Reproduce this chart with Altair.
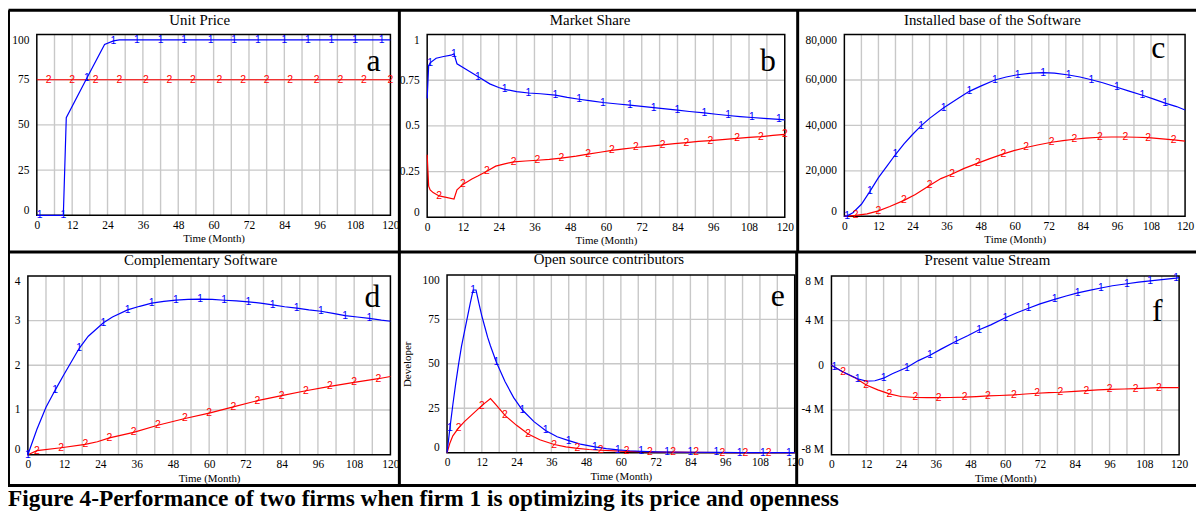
import altair as alt
import pandas as pd

# ---------------- data ----------------
month_ticks = [0, 12, 24, 36, 48, 60, 72, 84, 96, 108, 120]
month_grid = [6, 12, 18, 24, 30, 36, 42, 48, 54, 60, 66, 72, 78, 84, 90, 96, 102, 108, 114]

# a) Unit Price
a_t_blue = [0, 1, 9, 10, 17, 23, 26, 28, 34, 42, 50, 59, 67, 75, 84, 92, 100, 108, 117, 120]
a_v_blue = [0, 0, 0, 54, 76, 94.5, 96.5, 97, 97, 97, 97, 97, 97, 97, 97, 97, 97, 97, 97, 97]
a_mk_blue = [1, 9, 17, 26, 34, 42, 50, 59, 67, 75, 84, 92, 100, 108, 117]
a_t_red = [0, 4, 12, 20, 28, 37, 45, 53, 62, 70, 78, 86, 95, 103, 111, 120]
a_v_red = [75, 75, 75, 75, 75, 75, 75, 75, 75, 75, 75, 75, 75, 75, 75, 75]
a_mk_red = [4, 12, 20, 28, 37, 45, 53, 62, 70, 78, 86, 95, 103, 111, 120]

# b) Market Share
b_t_blue = [0, 0.5, 1, 3, 5.5, 8, 9, 10, 13, 17, 21, 24, 26, 30, 34, 38, 43, 47, 51, 55, 59, 64,
            68, 72, 76, 80, 84, 88, 93, 97, 101, 105, 109, 113, 118, 120]
b_v_blue = [0.65, 0.83, 0.845, 0.87, 0.88, 0.887, 0.895, 0.84, 0.81, 0.77, 0.73, 0.71, 0.70, 0.688,
            0.68, 0.676, 0.668, 0.656, 0.646, 0.637, 0.628, 0.62, 0.614, 0.607, 0.60, 0.593, 0.586,
            0.579, 0.571, 0.564, 0.557, 0.551, 0.546, 0.541, 0.536, 0.533]
b_mk_blue = [1, 9, 17, 26, 34, 43, 51, 59, 68, 76, 84, 93, 101, 109, 118]
b_t_red = [0, 0.5, 1, 2, 4, 6, 9, 10, 12, 15, 17, 20, 23, 26, 29, 33, 37, 41, 45, 50, 54, 58, 62,
           66, 70, 75, 79, 83, 87, 91, 95, 100, 104, 108, 112, 116, 120]
b_v_red = [0.342, 0.17, 0.15, 0.135, 0.117, 0.11, 0.10, 0.15, 0.18, 0.21, 0.226, 0.252, 0.28, 0.292,
           0.303, 0.308, 0.312, 0.317, 0.324, 0.335, 0.346, 0.356, 0.366, 0.374, 0.382, 0.389,
           0.396, 0.403, 0.409, 0.415, 0.42, 0.426, 0.432, 0.437, 0.441, 0.448, 0.454]
b_mk_red = [4, 12, 20, 29, 37, 45, 54, 62, 70, 79, 87, 95, 104, 112, 120]

# c) Installed base of the Software
c_t_blue = [0, 1, 3, 6, 9, 12, 15, 18, 21, 24, 27, 30, 35, 40, 44, 48, 53, 57, 61, 66, 70, 74, 79,
            83, 87, 91, 96, 100, 105, 109, 113, 117, 120]
c_v_blue = [0, 200, 1600, 5300, 11000, 17000, 22100, 27200, 31900, 36000, 39800, 43100, 47800,
            51800, 55000, 57300, 60000, 61300, 62300, 63000, 63200, 63000, 62200, 61300, 60100,
            58800, 56800, 55200, 53300, 51600, 49800, 48300, 46800]
c_mk_blue = [1, 9, 18, 27, 35, 44, 53, 61, 70, 79, 87, 96, 105, 113]
c_t_red = [0, 4, 8, 12, 16, 21, 25, 30, 34, 38, 42, 47, 51, 56, 60, 64, 68, 73, 77, 81, 85, 90, 94,
           99, 103, 107, 111, 116, 120]
c_v_red = [0, 400, 1100, 2400, 4300, 7000, 9600, 13600, 16600, 18600, 21000, 23400, 25300, 27500,
           29000, 30300, 31400, 32600, 33300, 33900, 34400, 34800, 34900, 34900, 34800, 34600,
           34200, 33600, 33100]
c_mk_red = [4, 12, 21, 30, 38, 47, 56, 64, 73, 81, 90, 99, 107, 116]

# d) Complementary Software
d_t_blue = [0, 3, 6, 9, 12, 17, 20, 25, 28, 33, 37, 41, 45, 49, 53, 57, 61, 65, 69, 73, 77, 81, 85,
            89, 93, 97, 101, 105, 109, 113, 117, 120]
d_v_blue = [0, 0.57, 1.06, 1.44, 1.8, 2.38, 2.65, 2.95, 3.08, 3.24, 3.32, 3.39, 3.43, 3.46, 3.475,
            3.48, 3.475, 3.455, 3.44, 3.42, 3.39, 3.35, 3.31, 3.28, 3.24, 3.21, 3.16, 3.11, 3.08,
            3.05, 3.01, 2.985]
d_mk_blue = [0, 9, 17, 25, 33, 41, 49, 57, 65, 73, 81, 89, 97, 105, 113]
d_t_red = [0, 3, 11, 19, 23, 27, 35, 43, 52, 60, 68, 76, 84, 92, 100, 108, 116, 120]
d_v_red = [0, 0.09, 0.155, 0.23, 0.29, 0.375, 0.5, 0.66, 0.81, 0.93, 1.07, 1.21, 1.32, 1.43, 1.53,
           1.62, 1.70, 1.75]
d_mk_red = [3, 11, 19, 27, 35, 43, 52, 60, 68, 76, 84, 92, 100, 108, 116]

# e) Open source contributors
e_t_blue = [0, 1, 2, 3, 4, 5, 6, 7, 8, 9, 10, 11, 12, 13, 14, 15, 17, 20, 23, 26, 30, 34, 38, 42,
            46, 51, 55, 59, 63, 67, 72, 76, 84, 93, 101, 109, 118, 120]
e_v_blue = [0, 14, 27, 39, 50, 60, 68, 76, 84, 91.5, 91.5, 84, 77, 71, 65, 60, 51, 40, 31, 24, 17.5,
            12.5, 9, 6.8, 4.8, 3.3, 2.3, 1.6, 1.1, 0.8, 0.5, 0.4, 0.25, 0.15, 0.1, 0.1, 0.1, 0.1]
e_mk_blue = [1, 9, 17, 26, 34, 42, 51, 59, 67, 76, 84, 93, 101, 109, 118]
e_t_red = [0, 1, 2, 4, 6, 9, 12, 15, 17, 20, 24, 28, 32, 37, 41, 45, 49, 53, 58, 62, 66, 70, 78, 86,
           95, 103, 111, 120]
e_v_red = [0, 5.5, 9.5, 14, 17.5, 22, 26.5, 30.5, 26.8, 21, 15.4, 10.5, 7.3, 4.6, 3.3, 2.4, 1.8,
           1.4, 1.0, 0.8, 0.6, 0.4, 0.3, 0.2, 0.1, 0.1, 0.1, 0.1]
e_mk_red = [4, 12, 20, 28, 37, 45, 53, 62, 70, 78, 86, 95, 103, 111]

# f) Present value Stream (millions)
f_t_blue = [0, 1, 4, 9, 12, 15, 18, 21, 26, 30, 34, 38, 43, 47, 51, 55, 60, 64, 68, 72, 77, 81, 85,
            89, 93, 97, 102, 106, 110, 114, 119, 120]
f_v_blue = [0, -0.15, -0.6, -1.2, -1.41, -1.38, -1.15, -0.75, -0.2, 0.42, 0.9, 1.47, 2.15, 2.65,
            3.18, 3.62, 4.26, 4.7, 5.1, 5.5, 5.9, 6.2, 6.48, 6.7, 6.92, 7.12, 7.3, 7.44, 7.56, 7.67,
            7.8, 7.85]
f_mk_blue = [1, 9, 18, 26, 34, 43, 51, 60, 68, 77, 85, 93, 102, 110, 119]
f_t_red = [0, 4, 8, 12, 16, 20, 24, 29, 33, 37, 41, 46, 50, 54, 58, 63, 67, 71, 75, 79, 84, 88, 92,
           96, 101, 105, 109, 113, 117, 120]
f_v_red = [0, -0.6, -1.1, -1.76, -2.2, -2.56, -2.79, -2.88, -2.89, -2.89, -2.88, -2.85, -2.8, -2.74,
           -2.7, -2.65, -2.57, -2.5, -2.45, -2.41, -2.33, -2.26, -2.2, -2.15, -2.12, -2.09, -2.05,
           -2.0, -2.0, -2.0]
f_mk_red = [4, 12, 20, 29, 37, 46, 54, 63, 71, 79, 88, 96, 105, 113]

caption = "Figure 4-Performance of two firms when firm 1 is optimizing its price and openness"

# ---------------- layout ----------------
OFF = 8
W, H = 1196, 508
SERIF = "Liberation Serif"
BLUE = "#0000ff"
RED = "#ff0000"
GRID = "#c8c8c8"

panels = [
    dict(title="Unit Price", letter="a", x0=37, x1=393, yT=33, yB=215, dom=[0, 100],
         yticks=[0, 25, 50, 75, 100], fmt="d", tx=201, ty=18, lx=376, ly=70,
         bt=a_t_blue, bv=a_v_blue, bm=a_mk_blue, rt=a_t_red, rv=a_v_red, rm=a_mk_red),
    dict(title="Market Share", letter="b", x0=430, x1=790, yT=33, yB=217, dom=[0, 1],
         yticks=[0, 0.25, 0.5, 0.75, 1], expr="'' + datum.value", tx=594, ty=18, lx=773, ly=70,
         bt=b_t_blue, bv=b_v_blue, bm=b_mk_blue, rt=b_t_red, rv=b_v_red, rm=b_mk_red),
    dict(title="Installed base of the Software", letter="c", x0=850, x1=1193, yT=33, yB=216,
         dom=[0, 80000], yticks=[0, 20000, 40000, 60000, 80000], fmt=",d", tx=999, ty=18,
         lx=1166, ly=57,
         bt=c_t_blue, bv=c_v_blue, bm=c_mk_blue, rt=c_t_red, rv=c_v_red, rm=c_mk_red),
    dict(title="Complementary Software", letter="d", x0=28, x1=393, yT=276, yB=456, dom=[0, 4],
         yticks=[0, 1, 2, 3, 4], fmt="d", tx=202, ty=260, lx=375, ly=307,
         bt=d_t_blue, bv=d_v_blue, bm=d_mk_blue, rt=d_t_red, rv=d_v_red, rm=d_mk_red),
    dict(title="Open source contributors", letter="e", x0=450, x1=800, yT=275, yB=454,
         dom=[0, 100], yticks=[0, 25, 50, 75, 100], fmt="d", tx=613, ty=259, lx=783, ly=306,
         ytitle="Developer",
         bt=e_t_blue, bv=e_v_blue, bm=e_mk_blue, rt=e_t_red, rv=e_v_red, rm=e_mk_red),
    dict(title="Present value Stream", letter="f", x0=837, x1=1187, yT=276, yB=456, dom=[-8, 8],
         yticks=[-8, -4, 0, 4, 8], expr="datum.value == 0 ? '0' : datum.value + ' M'",
         tx=994, ty=260, lx=1165, ly=321,
         bt=f_t_blue, bv=f_v_blue, bm=f_mk_blue, rt=f_t_red, rv=f_v_red, rm=f_mk_red),
]

one = pd.DataFrame({"k": [0]})


def panel_layers(p):
    xs = alt.Scale(domain=[0, 120], range=[p["x0"] - OFF, p["x1"] - OFF], nice=False, zero=False)
    ys = alt.Scale(domain=p["dom"], range=[p["yB"] - OFF, p["yT"] - OFF], nice=False, zero=False)
    lo, hi = p["dom"]
    L = []
    # vertical grid
    L.append(alt.Chart(pd.DataFrame({"g": month_grid})).mark_rule(color=GRID, strokeWidth=1.4).encode(
        x=alt.X("g:Q", scale=xs, axis=None),
        y=alt.YDatum(hi, type="quantitative", scale=ys, axis=None),
        y2=alt.Y2Datum(lo)))
    # horizontal grid
    L.append(alt.Chart(pd.DataFrame({"g": p["yticks"][1:-1]})).mark_rule(color=GRID, strokeWidth=1.4).encode(
        y=alt.Y("g:Q", scale=ys, axis=None),
        x=alt.XDatum(0, type="quantitative", scale=xs, axis=None),
        x2=alt.X2Datum(120)))
    # plot frame
    L.append(alt.Chart(one).mark_rect(fill="white", fillOpacity=0, stroke="black", strokeWidth=1.5).encode(
        x=alt.XDatum(0, type="quantitative", scale=xs, axis=None),
        x2=alt.X2Datum(120),
        y=alt.YDatum(hi, type="quantitative", scale=ys, axis=None),
        y2=alt.Y2Datum(lo)))
    blue = pd.DataFrame({"t": p["bt"], "v": p["bv"]})
    red = pd.DataFrame({"t": p["rt"], "v": p["rv"]})
    xaxis = alt.Axis(orient="bottom", offset=p["yB"] - OFF - H, values=month_ticks, format="d",
                     labelPadding=4, titlePadding=2, labelFlush=False, labelOverlap=False)
    ykw = dict(orient="left", offset=-(p["x0"] - OFF), values=p["yticks"], labelFlush=True,
               labelPadding=8, labelOverlap=False)
    if "expr" in p:
        ykw["labelExpr"] = p["expr"]
    else:
        ykw["format"] = p["fmt"]
    if "ytitle" in p:
        ykw["titlePadding"] = 10
    yaxis = alt.Axis(**ykw)
    # red line (carries y axis)
    L.append(alt.Chart(red).mark_line(color=RED, strokeWidth=1.2).encode(
        x=alt.X("t:Q", scale=xs, axis=None),
        y=alt.Y("v:Q", scale=ys, axis=yaxis, title=p.get("ytitle", ""))))
    # blue line (carries x axis)
    L.append(alt.Chart(blue).mark_line(color=BLUE, strokeWidth=1.2).encode(
        x=alt.X("t:Q", scale=xs, axis=xaxis, title="Time (Month)"),
        y=alt.Y("v:Q", scale=ys, axis=None)))
    # markers
    L.append(alt.Chart(red).transform_filter(alt.FieldOneOfPredicate(field="t", oneOf=p["rm"])).mark_text(
        text="2", color=RED, fontSize=10.5, font="Liberation Sans", baseline="middle").encode(
        x=alt.X("t:Q", scale=xs, axis=None), y=alt.Y("v:Q", scale=ys, axis=None)))
    L.append(alt.Chart(blue).transform_filter(alt.FieldOneOfPredicate(field="t", oneOf=p["bm"])).mark_text(
        text="1", color=BLUE, fontSize=10.5, font="Liberation Sans", baseline="middle").encode(
        x=alt.X("t:Q", scale=xs, axis=None), y=alt.Y("v:Q", scale=ys, axis=None)))
    # panel title and letter
    L.append(alt.Chart(one).mark_text(text=p["title"], font=SERIF, fontSize=15, baseline="middle",
                                      color="black").encode(
        x=alt.value(p["tx"] - OFF), y=alt.value(p["ty"] - OFF)))
    L.append(alt.Chart(one).mark_text(text=p["letter"], font=SERIF, fontSize=32, baseline="alphabetic",
                                      color="black").encode(
        x=alt.value(p["lx"] - OFF), y=alt.value(p["ly"] - OFF)))
    return L


layers = []
for p in panels:
    layers += panel_layers(p)


def rule(x1, y1, x2, y2):
    return alt.Chart(one).mark_rule(color="black", strokeWidth=3).encode(
        x=alt.value(x1 - OFF), y=alt.value(y1 - OFF), x2=alt.value(x2 - OFF), y2=alt.value(y2 - OFF))


# panel borders
layers += [
    rule(8.5, 8.5, 1204, 8.5),
    rule(8.5, 8.5, 8.5, 487),
    rule(8, 252, 1204, 252),
    rule(8, 487, 1204, 487),
    rule(402, 8, 402, 252),
    rule(803, 8, 803, 252),
    rule(402, 252, 402, 487),
    rule(802, 252, 802, 487),
]

layers.append(alt.Chart(one).mark_text(text=caption, font=SERIF, fontSize=23.5, fontWeight="bold",
                                       align="left", baseline="alphabetic", color="black").encode(
    x=alt.value(0), y=alt.value(500)))

chart = alt.layer(*layers).resolve_scale(x="independent", y="independent").properties(
    width=W, height=H, autosize=alt.AutoSizeParams(type="none"), padding=0
).configure_view(stroke=None).configure_axis(
    labelFont=SERIF, labelFontSize=11.5, labelColor="black",
    titleFont=SERIF, titleFontSize=11, titleFontWeight="normal", titleColor="black",
    domain=False, ticks=False, tickSize=0, grid=False
)

chart.save("out.html", embed_options={"renderer": "svg", "actions": False})
